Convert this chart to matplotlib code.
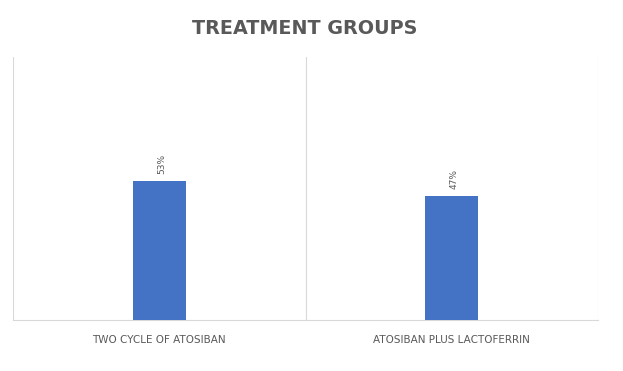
import matplotlib
matplotlib.use("Agg")
import matplotlib.pyplot as plt

categories = ["TWO CYCLE OF ATOSIBAN", "ATOSIBAN PLUS LACTOFERRIN"]
values = [0.53, 0.47]
value_labels = ["53%", "47%"]
title = "TREATMENT GROUPS"

plt.rcParams["font.family"] = ["DejaVu Sans"]

W, H = 623, 371
fig = plt.figure(figsize=(W / 100, H / 100), dpi=100)
ax = fig.add_axes([13 / W, 1 - 320 / H, (598 - 13) / W, (320 - 57) / H])

x = list(range(len(categories)))
bars = ax.bar(x, values, width=0.18, color="#4472C4", zorder=3)
ax.set_xlim(-0.5, len(categories) - 0.5)
ax.set_ylim(0, 1.0)

for xi, v, lab in zip(x, values, value_labels):
    ax.annotate(lab, (xi, v), xytext=(2, 5), textcoords="offset points",
                rotation=90, ha="center", va="bottom", fontsize=6.5, color="#595959")

# category separators
for b in [-0.5, 0.5, 1.5]:
    ax.axvline(b, color="#D9D9D9", lw=0.8, zorder=1)

for s in ["top", "left", "right"]:
    ax.spines[s].set_visible(False)
ax.spines["bottom"].set_color("#D9D9D9")
ax.spines["bottom"].set_linewidth(0.8)
ax.set_yticks([])
ax.set_xticks(x)
ax.set_xticklabels(categories, fontsize=7.5, color="#595959")
ax.tick_params(axis="x", length=0, pad=11)

fig.text(305 / W, 1 - 28 / H, title, ha="center", va="center",
         fontsize=13.8, fontweight="bold", color="#595959")

fig.savefig("out.png", dpi=100)
